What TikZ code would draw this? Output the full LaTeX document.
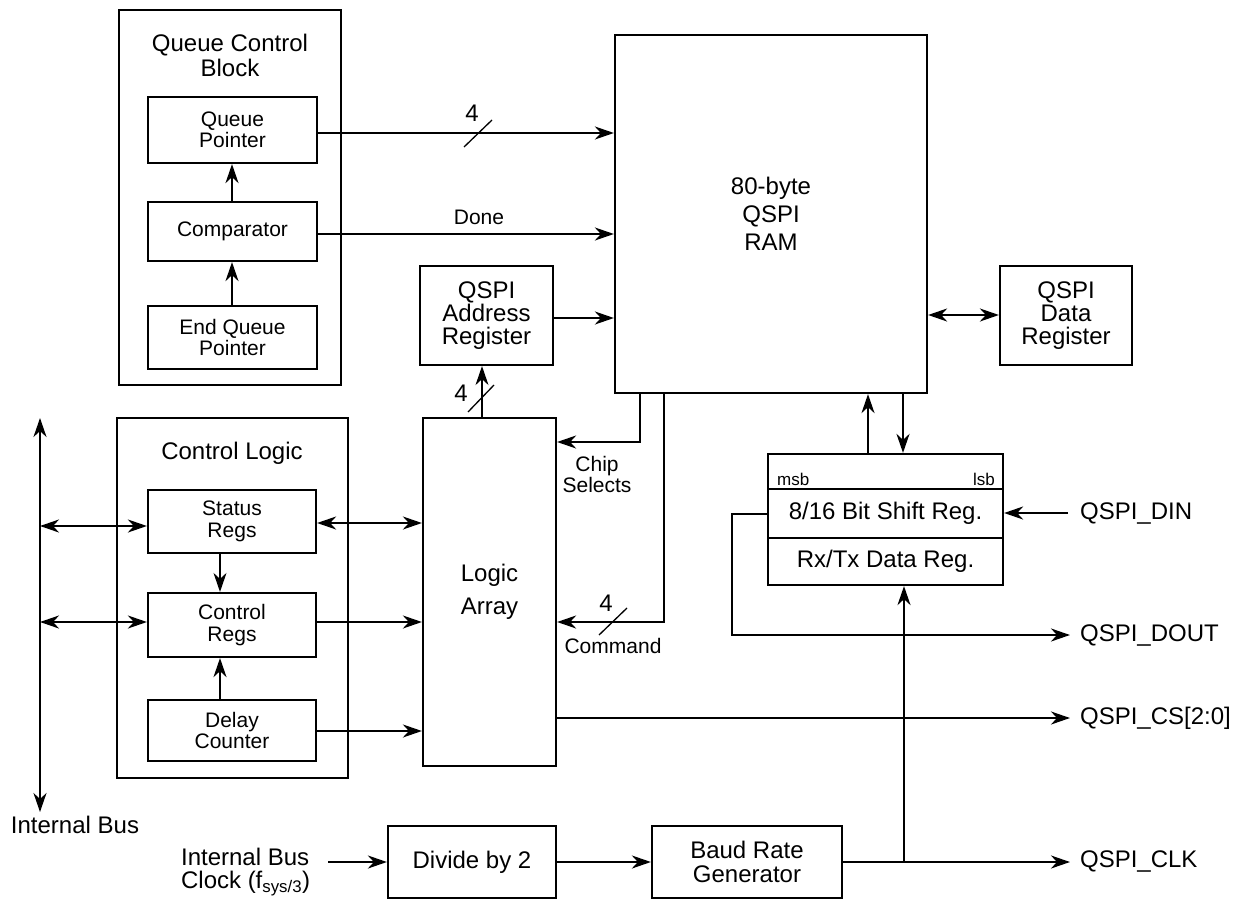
\documentclass[tikz,border=0pt]{standalone}
\usepackage{fontspec}
\setmainfont{Liberation Sans}
\usetikzlibrary{arrows.meta,calc}
\newcommand\fBig{\fontsize{24}{25}\selectfont}
\newcommand\fSm{\fontsize{21}{21.5}\selectfont}
\newcommand\fTiny{\fontsize{17}{18}\selectfont}
\begin{document}
\begin{tikzpicture}[x=1pt,y=1pt,line width=2.2pt,
  >={Stealth[length=19pt,width=13pt,inset=6pt]},
  box/.style={draw,line width=2.2pt,inner sep=0pt,align=center},
  lbl/.style={inner sep=0pt,align=center},
  thin/.style={line width=1.3pt}]
\useasboundingbox (0,0) rectangle (1236,-899);
% Queue control block
\node[box,minimum width=222pt,minimum height=375pt] (qcb) at (230,-197.5) {};
\node[lbl,font=\fBig] (qcbt) at (230,-55.5) {Queue Control\\Block};
\node[box,font=\fSm,minimum width=169pt,minimum height=66pt] (qp) at (232.5,-130) {Queue\\Pointer};
\node[box,font=\fSm,minimum width=169pt,minimum height=59pt] (comp) at (232.5,-231.5) {Comparator};
\node[box,font=\fSm,minimum width=169pt,minimum height=63pt] (eqp) at (232.5,-337.5) {End Queue\\Pointer};
% RAM
\node[box,font=\fontsize{24}{28}\selectfont,minimum width=312pt,minimum height=358pt] (ram) at (771,-214) {80-byte\\QSPI\\RAM};
\node[box,font=\fontsize{24}{23}\selectfont,minimum width=133pt,minimum height=99pt] (addr) at (486.5,-315.5) {QSPI\\Address\\Register};
\node[box,font=\fontsize{24}{23}\selectfont,minimum width=132pt,minimum height=99pt] (data) at (1066,-315.5) {QSPI\\Data\\Register};
% Control logic
\node[box,minimum width=231pt,minimum height=360pt] (cl) at (232.5,-598) {};
\node[lbl,font=\fBig] (clt) at (232,-453) {Control Logic};
\node[box,font=\fSm,minimum width=168pt,minimum height=63pt] (st) at (232,-521.5) {Status\\Regs};
\node[box,font=\fSm,minimum width=168pt,minimum height=64pt] (cr) at (232,-625) {Control\\Regs};
\node[box,font=\fSm,minimum width=168pt,minimum height=61pt] (dc) at (232,-730.5) {Delay\\Counter};
% Logic array
\node[box,font=\fontsize{24}{33}\selectfont,minimum width=133pt,minimum height=348pt] (la) at (489.5,-592) {Logic\\Array};
% Shift register
\node[box,minimum width=235pt,minimum height=35pt] (srtop) at (885.5,-471.5) {};
\node[lbl,font=\fTiny,anchor=west] (msb) at (776,-479) {msb};
\node[lbl,font=\fTiny,anchor=east] (lsb) at (996,-479) {lsb};
\node[box,font=\fBig,minimum width=235pt,minimum height=49pt] (sr) at (885.5,-513.5) {8/16 Bit Shift Reg.};
\node[box,font=\fBig,minimum width=235pt,minimum height=47pt] (rx) at (885.5,-561.5) {Rx/Tx Data Reg.};
% Clock chain
\node[box,font=\fBig,minimum width=168pt,minimum height=72pt] (div) at (472,-862) {Divide by 2};
\node[box,font=\fontsize{24}{24}\selectfont,minimum width=190pt,minimum height=72pt] (baud) at (747,-862) {Baud Rate\\Generator};
% Texts
\node[lbl,font=\fBig] (busl) at (75,-825) {Internal Bus};
\node[lbl,font=\fontsize{24}{23}\selectfont,anchor=west,align=left] (clkin) at (180,-872) {Internal Bus\\Clock (f\textsubscript{sys/3})};
\node[lbl,font=\fBig,anchor=west] (din) at (1079,-513) {QSPI\_DIN};
\node[lbl,font=\fBig,anchor=west] (dout) at (1079,-635) {QSPI\_DOUT};
\node[lbl,font=\fBig,anchor=west] (cs) at (1079,-718) {QSPI\_CS[2:0]};
\node[lbl,font=\fBig,anchor=west] (clkout) at (1079,-861) {QSPI\_CLK};
% Queue block connectors
\draw[->] (comp.north -| 232,0) -- (qp.south -| 232,0);
\draw[->] (eqp.north -| 232,0) -- (comp.south -| 232,0);
\draw[->] (qp.east |- 0,-133) -- (ram.west |- 0,-133);
\draw[thin] (464,-147) -- (492,-120);
\node[lbl,font=\fBig] (n4a) at (472,-113) {4};
\draw[->] (comp.east |- 0,-234) -- (ram.west |- 0,-234);
\node[lbl,font=\fSm] (done) at (479,-217) {Done};
\draw[->] (addr.east |- 0,-318) -- (ram.west |- 0,-318);
% Logic array to address register
\draw[->,thin] (la.north -| 482,0) -- (addr.south -| 482,0);
\draw[thin] (468,-412) -- (494,-385);
\node[lbl,font=\fBig] (n4b) at (461,-393) {4};
% Chip selects / command
\coordinate (csb) at (640,-442);
\draw[->] (ram.south -| csb) -- (csb) -- (la.east |- csb);
\node[lbl,font=\fSm] (chip) at (597,-474.5) {Chip\\Selects};
\coordinate (cmb) at (664,-622);
\draw[->] (ram.south -| cmb) -- (cmb) -- (la.east |- cmb);
\draw[thin] (599,-635) -- (627,-608);
\node[lbl,font=\fBig] (n4c) at (606,-603) {4};
\node[lbl,font=\fSm] (cmd) at (613,-646) {Command};
% Internal bus
\coordinate (busT) at (40,-418);
\coordinate (busB) at (40,-812);
\draw[<->] (busT) -- (busB);
\draw[<->] (busT |- 0,-526) -- (st.west |- 0,-526);
\draw[<->] (busT |- 0,-622) -- (cr.west |- 0,-622);
% Control logic connectors
\draw[->,thin] (st.south -| 220,0) -- (cr.north -| 220,0);
\draw[->] (dc.north -| 220,0) -- (cr.south -| 220,0);
\draw[<->] (st.east |- 0,-523) -- (la.west |- 0,-523);
\draw[->] (cr.east |- 0,-622) -- (la.west |- 0,-622);
\draw[->] (dc.east |- 0,-731) -- (la.west |- 0,-731);
% RAM / data / shift
\draw[<->] (ram.east |- 0,-315) -- (data.west |- 0,-315);
\draw[->] (srtop.north -| 868,0) -- (ram.south -| 868,0);
\draw[->] (ram.south -| 903,0) -- (srtop.north -| 903,0);
\coordinate (dinS) at (1068,-513);
\draw[->] (dinS) -- (sr.east |- dinS);
\coordinate (doL) at (732,-514);
\coordinate (doE) at (1070,-635);
\draw[->] (sr.west |- doL) -- (doL) -- (doL |- doE) -- (doE);
\coordinate (csE) at (1070,-718);
\draw[->] (la.east |- csE) -- (csE);
% Clock
\coordinate (clkS) at (328,-862);
\draw[->] (clkS) -- (div.west);
\draw[->] (div.east) -- (baud.west);
\coordinate (clkE) at (1070,-862);
\coordinate (clkJ) at (904,-862);
\draw[->] (baud.east) -- (clkE);
\draw[->] (clkJ) -- (rx.south -| clkJ);
\end{tikzpicture}
\end{document}
